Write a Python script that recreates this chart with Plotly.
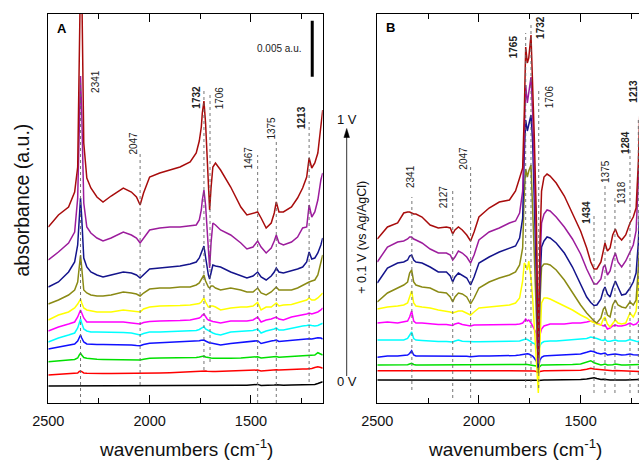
import plotly.graph_objects as go

# ---------------- data (heights in arbitrary absorbance units; 56 units = 0.005 a.u.) -------------
WN_A = [2500, 2450, 2400, 2370, 2355, 2347, 2341, 2335, 2325, 2310,
        2290, 2260, 2230, 2190, 2130, 2090, 2065, 2047, 2030, 2000,
        1950, 1900, 1850, 1800, 1770, 1755, 1745, 1740, 1732, 1724,
        1716, 1710, 1704, 1697, 1688, 1675, 1650, 1600, 1550, 1520,
        1490, 1467, 1450, 1425, 1400, 1385, 1375, 1362, 1340, 1300,
        1270, 1245, 1225, 1213, 1200, 1185, 1170, 1155, 1146]

A_0_0V = [17, 17, 17.2, 17.2, 17.3, 17.5, 17.6, 17.5, 17.3, 17.2,
          17.2, 17.2, 17.2, 17.2, 17.2, 17.2, 17.2, 17.1, 17.2, 17.3,
          17.3, 17.4, 17.4, 17.5, 17.5, 17.6, 17.6, 17.7, 17.7, 17.6,
          17.5, 17.5, 17.5, 17.5, 17.5, 17.5, 17.5, 17.6, 17.7, 17.8,
          18, 18.6, 17.6, 17.5, 17.8, 18, 18.2, 17.8, 17.8, 18,
          18.1, 18.2, 18.3, 18.5, 18.4, 18.6, 19.5, 21, 21.3]
A_0_1V = [28, 28.5, 29, 29.3, 30, 31.5, 32, 31.3, 30, 29.7,
          29.5, 29.5, 29.5, 29.5, 29.5, 29.5, 29.3, 29.3, 29.5, 29.7,
          30, 30.3, 30.7, 31.3, 31.5, 31.7, 32, 32.3, 32.3, 32,
          31.7, 31.5, 31.5, 31.5, 31.5, 31.5, 31.7, 32, 32.3, 32.5,
          32.7, 33, 32, 32.5, 32.7, 33, 33.2, 33, 33.3, 33.5,
          33.7, 34, 34, 34, 34.5, 35.5, 36.3, 35.5, 34.7]
A_0_2V = [41.3, 42.5, 43, 43.5, 45, 48, 49.7, 48, 45.5, 44.7,
          44, 43.7, 43.5, 43.5, 43.5, 43.3, 43, 43, 43.8, 44.7,
          45, 45, 45.2, 45.3, 45.5, 46, 46.5, 47, 47, 46,
          45.5, 45.2, 45, 45, 44.8, 44.7, 44.5, 44.7, 45, 45.3,
          45.7, 46.3, 45, 45.3, 45.5, 46, 46.5, 45.8, 46, 46.5,
          46.7, 47, 47.2, 47.3, 47.5, 48, 50.3, 49, 48]
A_0_3V = [54, 56, 58, 59, 62, 66, 68, 65, 61, 59,
          58.5, 58.5, 58.5, 58.5, 58.5, 58, 57.5, 57.3, 58.5, 59.7,
          60.2, 60.7, 61, 61.3, 61.7, 62.3, 62.8, 63, 63, 62,
          61, 60.5, 60, 60, 59.5, 59, 58, 59.5, 60.5, 61,
          61.5, 62.3, 59.5, 61, 62, 62.5, 63, 61.5, 62, 63,
          63, 63.5, 64, 64.3, 64, 64.5, 65.3, 65, 64]
A_0_4V = [61, 65, 68, 70, 75, 81, 84, 80, 74, 72,
          71, 71, 71, 71, 70.5, 70, 69, 68, 69.5, 71,
          71, 71.3, 71.7, 72, 72.5, 73.5, 75, 76, 76.3, 74,
          73, 72, 71.5, 71, 70, 69, 68, 71, 72, 72,
          72.5, 74, 70, 72, 73, 74, 75, 73, 73, 75,
          76, 77, 77.5, 78, 77.5, 77, 77.5, 78.5, 79.7]
A_0_5V = [72, 76, 79, 81, 86, 91, 93, 90, 85, 81,
          81, 81, 80.5, 80.5, 81, 80, 79.5, 79, 80.5, 81.5,
          82, 82, 82.5, 83, 84, 85, 86.5, 88, 89, 86,
          84, 83, 82.5, 82, 81.5, 81, 80, 82, 82, 82,
          83, 86, 81, 83, 84, 85, 86, 84, 83, 86,
          87, 88, 89, 90, 89, 90, 91, 93, 95]
A_0_6V = [83, 88, 91, 95, 99, 102, 104, 100, 95, 93,
          92, 91, 91, 91, 93, 92, 91, 91, 94, 96,
          97, 97, 97.5, 98, 98.5, 99.5, 101, 103, 105, 101,
          98, 96, 96, 97, 97, 96, 93, 95, 96, 96,
          97, 100.5, 93, 96, 96, 98, 100, 97, 98, 98.5,
          100, 102, 103, 105, 103, 103, 105, 108, 110]
A_0_7V = [99, 103, 108, 113, 121, 138, 148, 135, 113, 110,
          108, 107, 107, 108, 111, 110, 109, 107, 110, 114,
          115, 115, 116, 116, 118, 120, 124, 126, 128, 122,
          118, 116, 115, 117, 117, 115, 113, 115, 113, 111,
          111, 115, 110, 108, 111, 114, 116, 113, 113, 113,
          115, 118, 120, 121, 122, 123, 128, 141, 148]
A_0_8V = [116, 121, 131, 141, 158, 190, 205, 185, 145, 136,
          131, 128, 126, 128, 131, 130, 128, 125, 128, 134,
          135, 136, 137, 139, 141, 145, 151, 154, 157, 146,
          135, 128, 124, 132, 138, 137, 136, 131, 127, 125,
          127, 131, 126, 123, 127, 131, 135, 131, 130, 132,
          134, 136, 141, 151, 144, 145, 150, 158, 165]
A_0_9V = [143, 151, 160, 171, 205, 290, 327, 290, 200, 176,
          170, 165, 162, 165, 171, 168, 165, 160, 165, 173,
          175, 176, 176, 177, 178, 183, 193, 203, 213, 198,
          175, 150, 135, 160, 180, 178, 173, 168, 160, 154,
          156, 162, 156, 150, 155, 162, 168, 160, 158, 161,
          166, 175, 176, 198, 186, 191, 203, 223, 230]
A_1_0V = [176, 188, 196, 211, 236, 360, 430, 420, 260, 225,
          215, 206, 201, 207, 215, 211, 206, 198, 210, 226,
          230, 233, 236, 241, 250, 262, 276, 290, 302, 280,
          240, 205, 193, 215, 236, 240, 233, 216, 196, 188,
          190, 191, 185, 175, 180, 190, 201, 191, 191, 196,
          205, 215, 226, 245, 235, 240, 250, 280, 293]

WN_B = [2500, 2450, 2400, 2370, 2351, 2341, 2331, 2321, 2310, 2280,
        2240, 2200, 2160, 2141, 2129, 2118, 2101, 2082, 2060, 2041,
        2024, 2000, 1950, 1900, 1850, 1820, 1800, 1785, 1777, 1770,
        1762, 1755, 1744, 1736, 1728, 1718, 1708, 1700, 1692, 1680,
        1665, 1650, 1620, 1580, 1540, 1500, 1470, 1450, 1434, 1420,
        1400, 1388, 1380, 1368, 1355, 1342, 1329, 1316, 1298, 1278,
        1257, 1241, 1227, 1216, 1208]

B_0_0V = [23, 23, 23, 23, 23, 23.2, 23.3, 23, 23, 23,
          23, 23, 23, 23, 23, 23, 23, 23, 23, 23,
          23, 23, 23, 23, 23, 23, 23, 23, 23.1, 23.2,
          23.1, 23, 23, 23, 23, 22.8, 22.5, 22.8, 23, 23,
          23, 23, 23, 23, 23.2, 23.4, 24, 24.5, 25.3, 24.5,
          23.5, 23.8, 23.5, 23.2, 23, 23, 23.2, 23, 23, 23,
          23, 23, 23, 23.3, 23.5]
B_0_1V = [32.3, 32.3, 32.3, 32.3, 32.5, 32.8, 33, 32.5, 32.3, 32.3,
          32.3, 32.3, 32.3, 32.3, 32.2, 32.3, 32.3, 32.3, 32.3, 32.2,
          32.3, 32.3, 32.3, 32.3, 32.3, 32.3, 32.4, 32.5, 32.6, 32.7,
          32.6, 32.5, 32.4, 32.2, 32, 31.5, 30, 31.5, 32, 32.2,
          32.3, 32.3, 32.3, 32.4, 32.6, 32.8, 33.7, 34.7, 34, 33.7,
          33, 32.8, 33, 32.5, 32.3, 32.3, 32.4, 32.3, 32, 32,
          32, 32, 31.8, 31.5, 31.5]
B_0_2V = [38, 38, 38, 38, 38.3, 39, 39.7, 38.5, 38, 38,
          38, 38, 38, 38, 38, 38, 38, 38, 38, 38,
          38, 38, 38, 38, 38, 38, 38.2, 38.4, 38.6, 38.8,
          38.6, 38.5, 38.3, 38, 37.5, 37, 35, 37, 38, 38,
          38, 38, 38, 38.2, 38.5, 39, 41.3, 42.3, 40.3, 39.3,
          38, 38.5, 39, 38, 38, 38.3, 39, 38.3, 38, 38,
          38.3, 38, 38.2, 38.5, 38.5]
B_0_3V = [45.7, 47, 47, 47.5, 48, 49.5, 52.3, 48, 47, 47,
          47, 47, 47, 47, 47, 47, 47.3, 47, 46.7, 46.3,
          46.7, 47, 47, 47, 47, 47.5, 48, 48.5, 49, 49.7,
          49.3, 49, 48, 47, 45, 42, 35, 43, 45.7, 47,
          47.3, 47.5, 47.7, 48, 48.5, 49, 50.7, 52, 51.3, 50,
          49, 49.5, 50, 48, 48, 48.7, 49, 48.5, 48, 48.3,
          49, 48.3, 48, 48, 48.5]
B_0_4V = [63, 63, 62.5, 63, 64.5, 68, 71, 64.5, 63, 62.5,
          61.7, 61.5, 61.5, 61.5, 61, 62, 63, 61.7, 61.3, 61,
          61.3, 61.3, 61.3, 61.3, 61.3, 61.5, 62, 63, 63.5, 64,
          63.5, 63, 61.5, 60, 59.5, 57, 52, 57, 60, 61.5,
          62, 62, 62, 62.5, 63, 63.5, 64.5, 66, 65.5, 64.5,
          63, 62.5, 63.5, 61.7, 61.7, 62.3, 63, 62, 61.7, 62,
          63.5, 62.3, 61.7, 61.3, 62.5]
B_0_5V = [80, 81, 80, 81, 82, 86, 92, 82, 80, 80,
          79, 78.5, 78.5, 78, 77.5, 79, 80, 78.5, 78, 77,
          78, 78, 78, 78, 78, 78.5, 79, 80, 82, 84,
          82, 83, 80, 77, 75, 70, 45, 68, 74, 77,
          78, 79, 79, 79, 80, 80, 81, 82, 81, 80,
          78, 77, 78, 74, 75, 77, 78, 77, 77, 78,
          80, 78, 79, 81, 83]
B_0_6V = [94, 96, 97, 98, 100, 106, 112, 100, 97, 96,
          95, 93, 92, 91, 90, 91, 92, 92, 90, 88,
          91, 95, 96, 97, 98, 100, 105, 122, 140, 138,
          133, 142, 125, 105, 80, 50, 10, 60, 100, 105,
          105, 104, 101, 97, 93, 88, 85, 82, 80, 79,
          78, 84, 86, 79, 76, 79, 83, 80, 79, 80,
          90, 86, 92, 118, 135]
B_0_7V = [101, 110, 115, 118, 121, 130, 133, 121, 118, 116,
          115, 111, 110, 106, 101, 106, 110, 109, 106, 99,
          105, 115, 121, 125, 128, 131, 138, 155, 210, 234,
          226, 232, 238, 200, 150, 90, 30, 100, 136, 139,
          139, 138, 133, 123, 110, 98, 90, 85, 82, 80,
          85, 94, 96, 88, 86, 98, 103, 98, 96, 95,
          101, 98, 103, 135, 160]
B_0_8V = [120, 135, 140, 141, 143, 147, 148, 143, 141, 140,
          136, 131, 131, 127, 121, 126, 130, 128, 125, 118,
          126, 140, 146, 151, 155, 157, 165, 185, 250, 283,
          272, 278, 288, 262, 210, 130, 35, 120, 156, 162,
          166, 165, 160, 150, 136, 119, 106, 100.5, 97.5, 98,
          104, 113, 116, 109, 106, 115, 122, 116, 108, 109,
          115, 121, 130, 160, 200]
B_0_9V = [141, 156, 161, 162, 164, 166, 166, 164, 163, 160,
          154, 150, 150, 148, 143, 146, 152, 150, 146, 140,
          148, 163, 171, 175, 180, 182, 190, 212, 270, 318,
          300, 310, 326, 290, 235, 160, 40, 140, 180, 189,
          193, 192, 186, 176, 164, 149, 134, 125, 119, 119,
          124, 136, 138, 128, 132, 143, 150, 141, 136, 142,
          152, 158, 172, 215, 260]
B_1_0V = [164, 176, 180, 190, 191, 191, 190, 189, 189, 186,
          178, 175, 176, 175, 169, 173, 176, 173, 168, 162,
          171, 186, 195, 201, 203, 212, 225, 235, 290, 356,
          340, 345, 368, 320, 268, 190, 45, 160, 212, 226,
          229, 227, 220, 207, 190, 172, 155, 141, 134, 134,
          141, 155, 160, 152, 155, 168, 174, 167, 163, 168,
          180, 186, 195, 240, 295]

POTENTIALS = ["0.0 V", "0.1 V", "0.2 V", "0.3 V", "0.4 V", "0.5 V",
              "0.6 V", "0.7 V", "0.8 V", "0.9 V", "1.0 V"]
SERIES_A = [A_0_0V, A_0_1V, A_0_2V, A_0_3V, A_0_4V, A_0_5V,
            A_0_6V, A_0_7V, A_0_8V, A_0_9V, A_1_0V]
SERIES_B = [B_0_0V, B_0_1V, B_0_2V, B_0_3V, B_0_4V, B_0_5V,
            B_0_6V, B_0_7V, B_0_8V, B_0_9V, B_1_0V]

# peak labels: (text, bold, line wavenumber, line bottom, line top, label x, label y)
PEAKS_A = [("2341", False, 2341, 0, 320, 2270, 322),
           ("2047", False, 2047, 18, 250, 2084, 260),
           ("1732", True, 1732, 33, 315, 1773, 306),
           ("1706", False, 1702, 41, 308, 1656, 305),
           ("1467", False, 1467, 0, 248, 1513, 245),
           ("1375", False, 1375, 0, 262, 1403, 275),
           ("1213", True, 1213, 21, 281, 1253, 285)]
PEAKS_B = [("2341", False, 2330, 13, 206, 2339, 226),
           ("2127", False, 2129, 5, 212, 2175, 206),
           ("2047", False, 2041, 5, 238, 2080, 245),
           ("1765", True, 1770, 15, 370, 1831, 356),
           ("1732", True, 1744, 15, 380, 1700, 376),
           ("1706", False, 1706, 15, 315, 1654, 306),
           ("1434", True, 1434, 10, 190, 1475, 191),
           ("1375", False, 1380, 10, 217, 1380, 232),
           ("1318", False, 1331, 10, 206, 1301, 210),
           ("1284", True, 1257, 10, 253, 1282, 261),
           ("1213", True, 1216, 10, 286, 1244, 312)]

# ---------------- styling ----------------
COLORS = ["#000000", "#ff0000", "#00e000", "#1010ff", "#00ffff", "#ff00ff",
          "#ffff00", "#8a8a14", "#14148c", "#9c1c9c", "#a80c0c"]
FONT = "Liberation Sans, Arial, sans-serif"
W, H = 639, 460


def px(x):
    return x / W


def py(y):
    return 1 - y / H


fig = go.Figure()
for name, col, ya in zip(POTENTIALS, COLORS, SERIES_A):
    fig.add_trace(go.Scatter(x=WN_A, y=ya, mode="lines", name=name,
                             line=dict(color=col, width=1.5),
                             xaxis="x", yaxis="y", showlegend=False))
for name, col, yb in zip(POTENTIALS, COLORS, SERIES_B):
    fig.add_trace(go.Scatter(x=WN_B, y=yb, mode="lines", name=name,
                             line=dict(color=col, width=1.5),
                             xaxis="x2", yaxis="y2", showlegend=False))

Y_DOM = [py(403), py(13.5)]
Y_RANGE = [0, 389.5]

xcommon = dict(dtick=500, tick0=0, ticks="inside", ticklen=8, tickwidth=1.3,
               tickcolor="black", showline=True, linewidth=1.3, linecolor="black",
               mirror="ticks", showgrid=False, zeroline=False, automargin=False,
               ticklabelstandoff=4,
               minor=dict(dtick=250, ticks="inside", ticklen=5, tickwidth=1.3,
                          tickcolor="black", showgrid=False),
               tickfont=dict(family=FONT, size=14.5, color="#111"))
ycommon = dict(range=Y_RANGE, domain=Y_DOM, showticklabels=False, ticks="",
               showline=True, linewidth=1.3, linecolor="black", automargin=False,
               showgrid=False, zeroline=False)

fig.update_layout(
    template="none",
    width=W, height=H, margin=dict(l=0, r=0, t=0, b=0, pad=0, autoexpand=False),
    paper_bgcolor="white", plot_bgcolor="white",
    xaxis=dict(domain=[px(48.3), px(322.7)], range=[2500, 1146], anchor="y", **xcommon),
    yaxis=dict(anchor="x", mirror=True, **ycommon),
    xaxis2=dict(domain=[px(377.3), 1.0], range=[2500, 1212.7], anchor="y2", **xcommon),
    yaxis2=dict(anchor="x2", mirror=False, **ycommon),
)

shapes = []
annotations = []
for peaks, xr, yr in ((PEAKS_A, "x", "y"), (PEAKS_B, "x2", "y2")):
    for text, bold, xl, y0, y1, lx, ly in peaks:
        shapes.append(dict(type="line", xref=xr, yref=yr, x0=xl, x1=xl, y0=y0, y1=y1,
                           line=dict(color="#666", width=0.9, dash="dot")))
        annotations.append(dict(xref=xr, yref=yr, x=lx, y=ly, showarrow=False,
                                text=f"<b>{text}</b>" if bold else text, textangle=-90,
                                font=dict(family=FONT, size=10, color="#222"),
                                xanchor="center", yanchor="middle"))

# scale bar
shapes.append(dict(type="line", xref="x", yref="y", x0=1197.6, x1=1197.6, y0=326.3, y1=382.3,
                   line=dict(color="black", width=3)))
annotations.append(dict(xref="x", yref="y", x=1362, y=355, text="0.005 a.u.", showarrow=False,
                        font=dict(family=FONT, size=10, color="#222")))
# panel letters
annotations.append(dict(xref="x", yref="y", x=2434, y=375, text="<b>A</b>", showarrow=False,
                        font=dict(family=FONT, size=13, color="black")))
annotations.append(dict(xref="x2", yref="y2", x=2437, y=376, text="<b>B</b>", showarrow=False,
                        font=dict(family=FONT, size=13, color="black")))
# axis titles
for cx in (186, 515):
    annotations.append(dict(xref="paper", yref="paper", x=px(cx), y=py(448),
                            text="wavenumbers (cm<sup>-1</sup>)", showarrow=False,
                            xanchor="center", yanchor="middle",
                            font=dict(family=FONT, size=19, color="#111")))
annotations.append(dict(xref="paper", yref="paper", x=px(21.5), y=py(200),
                        text="absorbance (a.u.)", textangle=-90, showarrow=False,
                        xanchor="center", yanchor="middle",
                        font=dict(family=FONT, size=19.5, color="#111")))
# potential arrow
shapes.append(dict(type="line", xref="paper", yref="paper", x0=px(346.7), x1=px(346.7),
                   y0=py(376), y1=py(136), line=dict(color="#333", width=1)))
shapes.append(dict(type="path", xref="paper", yref="paper",
                   path=f"M {px(343.9)} {py(137.5)} L {px(349.5)} {py(137.5)} L {px(346.7)} {py(128.5)} Z",
                   fillcolor="black", line=dict(color="black", width=0.5)))
annotations.append(dict(xref="paper", yref="paper", x=px(346.5), y=py(110), text="1 V",
                        showarrow=False, font=dict(family=FONT, size=13, color="#111")))
annotations.append(dict(xref="paper", yref="paper", x=px(347), y=py(391), text="0 V",
                        showarrow=False, font=dict(family=FONT, size=13, color="#111")))
annotations.append(dict(xref="paper", yref="paper", x=px(361.7), y=py(237),
                        text="+ 0.1 V (vs Ag/AgCl)", textangle=-90, showarrow=False,
                        xanchor="center", yanchor="middle",
                        font=dict(family=FONT, size=12.5, color="#111")))

fig.update_layout(shapes=shapes, annotations=annotations)
fig.write_html("out.html", config={"displayModeBar": False},
               post_script="document.body.style.margin='0px';document.body.style.overflow='hidden';")
